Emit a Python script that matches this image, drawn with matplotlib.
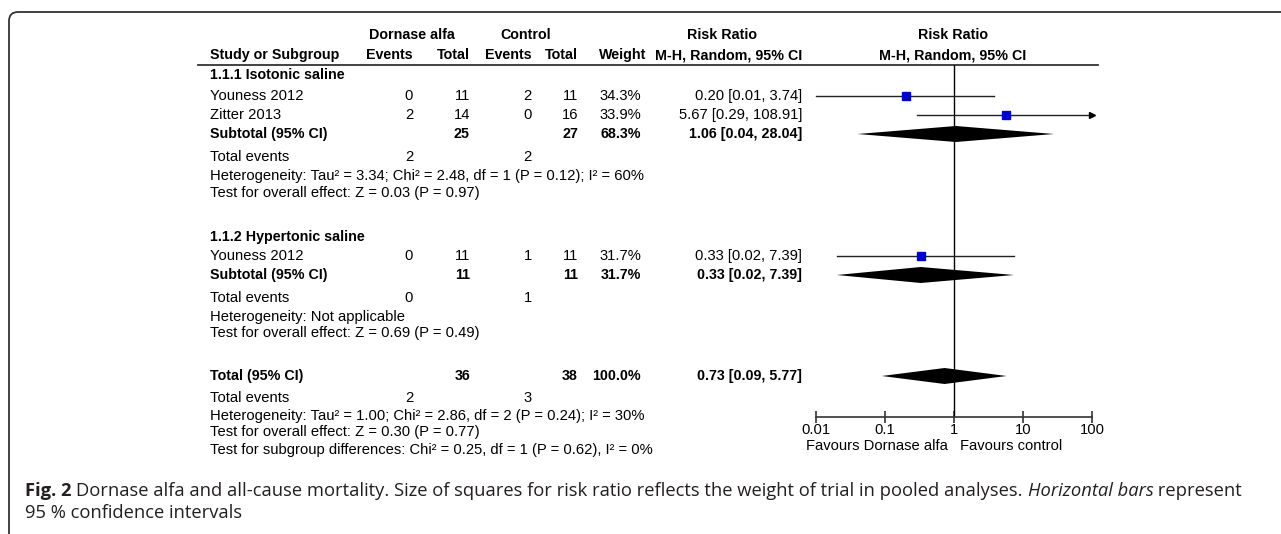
import matplotlib.pyplot as plt
from matplotlib.patches import FancyBboxPatch
import numpy as np

# Datos de los estudios
estudios = ["Youness 2012", "Zitter 2013", "Youness 2012"]
grupo = [0, 0, 1]
da_eventos = [0, 2, 0]
da_total = [11, 14, 11]
ct_eventos = [2, 0, 1]
ct_total = [11, 16, 11]
pesos = [34.3, 33.9, 31.7]
rr = [0.20, 5.67, 0.33]
rr_lo = [0.01, 0.29, 0.02]
rr_hi = [3.74, 108.91, 7.39]

# Subgrupos
sub_nombres = ["1.1.1 Isotonic saline", "1.1.2 Hypertonic saline"]
sub_da_total = [25, 11]
sub_ct_total = [27, 11]
sub_da_eventos = [2, 0]
sub_ct_eventos = [2, 1]
sub_pesos = [68.3, 31.7]
sub_rr = [1.06, 0.33]
sub_lo = [0.04, 0.02]
sub_hi = [28.04, 7.39]
sub_het = ["Heterogeneity: Tau\u00b2 = 3.34; Chi\u00b2 = 2.48, df = 1 (P = 0.12); I\u00b2 = 60%",
           "Heterogeneity: Not applicable"]
sub_test = ["Test for overall effect: Z = 0.03 (P = 0.97)",
            "Test for overall effect: Z = 0.69 (P = 0.49)"]

# Total
tot_da_total, tot_ct_total = 36, 38
tot_da_eventos, tot_ct_eventos = 2, 3
tot_peso = 100.0
tot_rr, tot_lo, tot_hi = 0.73, 0.09, 5.77
tot_het = "Heterogeneity: Tau\u00b2 = 1.00; Chi\u00b2 = 2.86, df = 2 (P = 0.24); I\u00b2 = 30%"
tot_test = "Test for overall effect: Z = 0.30 (P = 0.77)"
tot_sub = "Test for subgroup differences: Chi\u00b2 = 0.25, df = 1 (P = 0.62), I\u00b2 = 0%"

ticks = [0.01, 0.1, 1, 10, 100]
tick_labels = ["0.01", "0.1", "1", "10", "100"]

# Pie de figura, en trozos (texto, peso, estilo)
pie_l1 = [("Fig. 2 ", 'bold', 'normal'),
          ("Dornase alfa and all-cause mortality. Size of squares for risk ratio reflects the "
           "weight of trial in pooled analyses. ", 'normal', 'normal'),
          ("Horizontal bars", 'normal', 'italic'),
          (" represent", 'normal', 'normal')]
pie_l2 = "95 % confidence intervals"

# Layout (pixeles)
W, H = 1281, 534
y_est = [96, 115, 256]
y_grupo = [75, 237]
y_sub = [134, 275]
y_sub_ev = [157, 298]
y_sub_het = [176, 317]
y_sub_test = [193, 333]
y_tot, y_tot_ev, y_tot_het, y_tot_test, y_tot_sub = 376, 398, 416, 432, 450
x_txt = 210
x_dae, x_dat, x_cte, x_ctt, x_w, x_rr = 413, 470, 532, 578, 641, 802

plt.rcParams['font.family'] = ['Liberation Sans', 'DejaVu Sans']
fs = 10.6
fsb = 10.3

fig = plt.figure(figsize=(W / 100, H / 100), dpi=100)
fig.patch.set_facecolor('white')
axp = fig.add_axes([0, 0, 1, 1])
axp.set_xlim(0, W)
axp.set_ylim(H, 0)
axp.axis('off')

# Marco redondeado
axp.add_patch(FancyBboxPatch((9, 12), 1400, 600, boxstyle="round,pad=0,rounding_size=9",
                             fc='none', ec='#333333', lw=1.3, clip_on=True))


def t(x, y, s, ha='left', bold=False, **kw):
    return axp.text(x, y, s, ha=ha, va='center', fontsize=fsb if bold else fs,
                    fontweight='bold' if bold else 'normal', color='black', **kw)


# Encabezados
t(412, 35, "Dornase alfa", ha='center', bold=True)
t(526, 35, "Control", ha='center', bold=True)
t(722, 35, "Risk Ratio", ha='center', bold=True)
t(953, 35, "Risk Ratio", ha='center', bold=True)
t(x_txt, 55, "Study or Subgroup", bold=True)
t(x_dae, 55, "Events", ha='right', bold=True)
t(x_dat, 55, "Total", ha='right', bold=True)
t(x_cte, 55, "Events", ha='right', bold=True)
t(x_ctt, 55, "Total", ha='right', bold=True)
t(646, 55, "Weight", ha='right', bold=True)
t(x_rr, 55, "M-H, Random, 95% CI", ha='right', bold=True)
t(953, 55, "M-H, Random, 95% CI", ha='center', bold=True)
axp.plot([198, 1098], [65, 65], color='#333333', lw=1.3)

fmt = lambda r, l, h: f"{r:.2f} [{l:.2f}, {h:.2f}]"

for g in range(2):
    t(x_txt, y_grupo[g], sub_nombres[g], bold=True)
    t(x_txt, y_sub[g], "Subtotal (95% CI)", bold=True)
    t(x_dat, y_sub[g], str(sub_da_total[g]), ha='right', bold=True)
    t(x_ctt, y_sub[g], str(sub_ct_total[g]), ha='right', bold=True)
    t(x_w, y_sub[g], f"{sub_pesos[g]:.1f}%", ha='right', bold=True)
    t(x_rr, y_sub[g], fmt(sub_rr[g], sub_lo[g], sub_hi[g]), ha='right', bold=True)
    t(x_txt, y_sub_ev[g], "Total events")
    t(x_dae, y_sub_ev[g], str(sub_da_eventos[g]), ha='right')
    t(x_cte, y_sub_ev[g], str(sub_ct_eventos[g]), ha='right')
    t(x_txt, y_sub_het[g], sub_het[g])
    t(x_txt, y_sub_test[g], sub_test[g])

for i in range(len(estudios)):
    y = y_est[i]
    t(x_txt, y, estudios[i])
    t(x_dae, y, str(da_eventos[i]), ha='right')
    t(x_dat, y, str(da_total[i]), ha='right')
    t(x_cte, y, str(ct_eventos[i]), ha='right')
    t(x_ctt, y, str(ct_total[i]), ha='right')
    t(x_w, y, f"{pesos[i]:.1f}%", ha='right')
    t(x_rr, y, fmt(rr[i], rr_lo[i], rr_hi[i]), ha='right')

t(x_txt, y_tot, "Total (95% CI)", bold=True)
t(x_dat, y_tot, str(tot_da_total), ha='right', bold=True)
t(x_ctt, y_tot, str(tot_ct_total), ha='right', bold=True)
t(x_w, y_tot, f"{tot_peso:.1f}%", ha='right', bold=True)
t(x_rr, y_tot, fmt(tot_rr, tot_lo, tot_hi), ha='right', bold=True)
t(x_txt, y_tot_ev, "Total events")
t(x_dae, y_tot_ev, str(tot_da_eventos), ha='right')
t(x_cte, y_tot_ev, str(tot_ct_eventos), ha='right')
t(x_txt, y_tot_het, tot_het)
t(x_txt, y_tot_test, tot_test)
t(x_txt, y_tot_sub, tot_sub)

t(948, 446, "Favours Dornase alfa", ha='right')
t(960, 446, "Favours control", ha='left')

# Forest plot
x0, x1, ytop, ybot = 816, 1092, 65, 417
ax = fig.add_axes([x0 / W, 1 - ybot / H, (x1 - x0) / W, (ybot - ytop) / H])
ax.patch.set_alpha(0)
ax.set_xscale('log')
ax.set_xlim(ticks[0], ticks[-1])
ax.set_ylim(ybot, ytop)
for s in ['top', 'right', 'left']:
    ax.spines[s].set_visible(False)
ax.spines['bottom'].set_linewidth(1.2)
ax.spines['bottom'].set_color('#333333')
ax.set_yticks([])
ax.set_xticks(ticks)
ax.set_xticklabels(tick_labels)
ax.minorticks_off()
ax.tick_params(axis='x', direction='inout', length=9, width=1.2, color='#333333',
               labelsize=fs, pad=0)
ax.axvline(1, color='black', lw=1)

for i in range(len(estudios)):
    y = y_est[i]
    hi = min(rr_hi[i], ticks[-1])
    lo = max(rr_lo[i], ticks[0])
    ax.plot([lo, hi], [y, y], color='#222222', lw=1, clip_on=False)
    if rr_hi[i] > ticks[-1]:
        ax.plot([ticks[-1]], [y], marker='>', ms=5, color='black', clip_on=False)
    ax.plot([rr[i]], [y], marker='s', ms=5.8 * np.sqrt(pesos[i] / 34.3),
            color='#0000CC', mec='#0000CC', clip_on=False, zorder=3)


def diamante(c, lo, hi, y, h=8):
    ax.fill([lo, c, hi, c], [y, y - h, y, y + h], color='black', lw=0, clip_on=False, zorder=3)


for g in range(2):
    diamante(sub_rr[g], sub_lo[g], sub_hi[g], y_sub[g])
diamante(tot_rr, tot_lo, tot_hi, y_tot)

# Pie de figura: se ajusta el tamano para que la linea llegue a x=1245
cap_fam = ['Open Sans', 'DejaVu Sans']
fig.canvas.draw()
rend = fig.canvas.get_renderer()


def pie(cfs, x_ini=25):
    objs = []
    xc = x_ini
    for txt, peso, estilo in pie_l1:
        tt = axp.text(xc, 491, txt, fontsize=cfs, fontweight=peso, fontstyle=estilo,
                      family=cap_fam, color='#231f20', va='center', ha='left')
        xc = xc + tt.get_window_extent(rend).width
        objs.append(tt)
    return objs, xc


objs, x_fin = pie(10.0)
for o in objs:
    o.remove()
cfs = 10.0 * (1245 - 25) / (x_fin - 25)
pie(cfs)
axp.text(25, 513, pie_l2, fontsize=cfs, family=cap_fam, color='#231f20', va='center', ha='left')

fig.savefig("out.png", dpi=100)
